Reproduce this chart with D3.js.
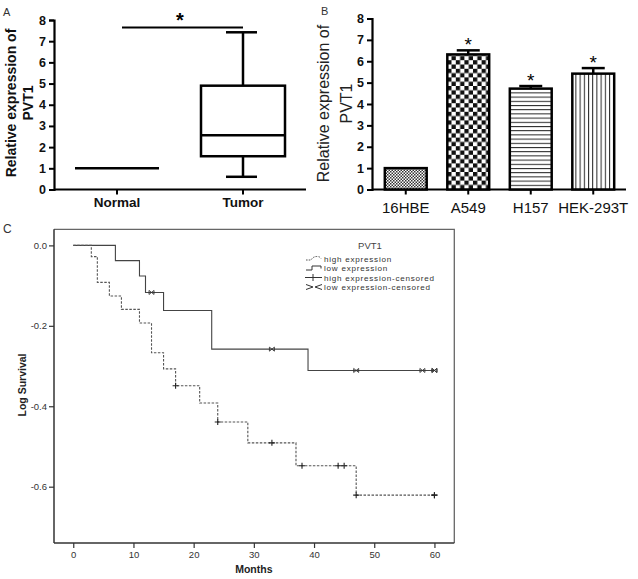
<!DOCTYPE html>
<html><head><meta charset="utf-8">
<script src="https://cdn.jsdelivr.net/npm/d3@7"></script>
<style>body{margin:0;background:#fff}svg{display:block}text{font-family:"Liberation Sans",Arial,sans-serif}</style>
</head><body><svg id="c" width="638" height="579"></svg>
<script>
// ---------- Panel A data ----------
const boxCategories = ["Normal", "Tumor"];
const normalValue = [1.0];
const tumorStats = [0.6, 1.57, 2.56, 4.9, 7.42]; // min, q1, median, q3, max
const sigLevelA = [7.65];
const ticksAB = [0, 1, 2, 3, 4, 5, 6, 7, 8];

// ---------- Panel B data ----------
const barCategories = ["16HBE", "A549", "H157", "HEK-293T"];
const barValues = [1.0, 6.32, 4.72, 5.42];
const barErrors = [0, 0.19, 0.12, 0.26];
const barStars = [false, true, true, true];
const barPatterns = ["fine", "checker", "hlines", "vlines"];

// ---------- Panel C data ----------
const highTimes = [0, 3, 4, 6, 8, 11, 13, 15, 17, 21, 24, 29, 37, 47];
const highLevels = [0, -0.028, -0.092, -0.126, -0.159, -0.193, -0.267, -0.307, -0.349, -0.392, -0.439, -0.491, -0.548, -0.621];
const highCensored = [17, 24, 33, 38, 44, 45, 47, 60, 60];
const lowTimes = [0, 7, 11, 12, 15, 23, 39];
const lowLevels = [0, -0.038, -0.076, -0.117, -0.162, -0.258, -0.311];
const lowCensored = [13, 33, 47, 58, 60, 60];
const endTime = [60];
const monthTicks = [0, 10, 20, 30, 40, 50, 60];
const logTicks = [0, -0.2, -0.4, -0.6];
const legendItems = ["high expression", "low expression", "high expression-censored", "low expression-censored"];

const svg = d3.select("#c");
const F = '"Liberation Sans",Arial,sans-serif';
const FW = '"DejaVu Sans",Verdana,sans-serif';

// ================= Panel A =================
const gA = svg.append("g");
const xA = d3.scaleBand().domain(boxCategories).range([54, 306]).paddingInner(1/3).paddingOuter(1/6);
const yA = d3.scaleLinear().domain([0, 8]).range([189.5, 20]);
gA.append("text").attr("x", 3).attr("y", 16).attr("font-size", 11).attr("fill", "#333").text("A");
const axYA = gA.append("g").attr("transform", "translate(54,0)")
  .call(d3.axisLeft(yA).tickValues(ticksAB).tickSize(5).tickPadding(3).tickFormat(d3.format("d")));
const axXA = gA.append("g").attr("transform", "translate(0,189.5)")
  .call(d3.axisBottom(xA).tickSize(5).tickPadding(3));
[axYA, axXA].forEach(a => {
  a.select(".domain").attr("stroke", "#000").attr("stroke-width", 2.2);
  a.selectAll(".tick line").attr("stroke", "#000").attr("stroke-width", 2);
  a.selectAll("text").attr("font-family", F).attr("font-weight", "bold").attr("fill", "#111");
});
axYA.selectAll("text").attr("font-size", 12.5);
axXA.selectAll("text").attr("font-size", 13.5);
axXA.select(".domain").attr("d", "M54,0H306");
gA.append("line").attr("x1", xA("Normal")).attr("x2", xA("Normal") + xA.bandwidth())
  .attr("y1", yA(normalValue[0])).attr("y2", yA(normalValue[0])).attr("stroke", "#000").attr("stroke-width", 2.5);
const tx = xA("Tumor"), tw = xA.bandwidth(), tc = tx + tw / 2;
function ln(g, x1, y1, x2, y2) { return g.append("line").attr("x1", x1).attr("y1", y1).attr("x2", x2).attr("y2", y2).attr("stroke", "#000").attr("stroke-width", 2.5); }
ln(gA, tc, yA(tumorStats[0]), tc, yA(tumorStats[1]));
ln(gA, tc, yA(tumorStats[3]), tc, yA(tumorStats[4]));
ln(gA, tc - 17, yA(tumorStats[0]), tc + 14, yA(tumorStats[0]));
ln(gA, tc - 17, yA(tumorStats[4]), tc + 14, yA(tumorStats[4]));
gA.append("rect").attr("x", tx).attr("y", yA(tumorStats[3])).attr("width", tw)
  .attr("height", yA(tumorStats[1]) - yA(tumorStats[3])).attr("fill", "#fff").attr("stroke", "#000").attr("stroke-width", 2.5);
ln(gA, tx, yA(tumorStats[2]), tx + tw, yA(tumorStats[2]));
const nc = xA("Normal") + xA.bandwidth() / 2;
ln(gA, nc + 5, yA(sigLevelA[0]), tc, yA(sigLevelA[0])).attr("stroke-width", 2);
gA.append("text").attr("x", (nc + tc) / 2).attr("y", yA(sigLevelA[0])).attr("text-anchor", "middle")
  .attr("font-size", 20).attr("font-weight", "bold").attr("fill", "#000").text("*");
const labA = gA.append("text").attr("transform", "translate(16,103) rotate(-90)").attr("text-anchor", "middle")
  .attr("font-size", 14).attr("font-weight", "bold").attr("fill", "#111");
labA.append("tspan").attr("x", 0).attr("y", 0).text("Relative expression of");
labA.append("tspan").attr("x", 0).attr("y", 17).text("PVT1");

// ================= Panel B =================
const gB = svg.append("g");
const defs = svg.append("defs");
let p = defs.append("pattern").attr("id", "fine").attr("patternUnits", "userSpaceOnUse").attr("width", 3).attr("height", 3);
p.append("rect").attr("width", 3).attr("height", 3).attr("fill", "#fff");
p.append("rect").attr("width", 1.5).attr("height", 1.5).attr("fill", "#333");
p.append("rect").attr("x", 1.5).attr("y", 1.5).attr("width", 1.5).attr("height", 1.5).attr("fill", "#333");
p = defs.append("pattern").attr("id", "checker").attr("patternUnits", "userSpaceOnUse").attr("width", 8.6).attr("height", 8.6);
p.append("rect").attr("width", 8.6).attr("height", 8.6).attr("fill", "#fff");
p.append("rect").attr("width", 4.3).attr("height", 4.3).attr("fill", "#111");
p.append("rect").attr("x", 4.3).attr("y", 4.3).attr("width", 4.3).attr("height", 4.3).attr("fill", "#111");
p = defs.append("pattern").attr("id", "hlines").attr("patternUnits", "userSpaceOnUse").attr("width", 4).attr("height", 4.2);
p.append("rect").attr("width", 4).attr("height", 4.2).attr("fill", "#fff");
p.append("rect").attr("y", 0).attr("width", 4).attr("height", 1).attr("fill", "#222");
p = defs.append("pattern").attr("id", "vlines").attr("patternUnits", "userSpaceOnUse").attr("width", 4.2).attr("height", 4);
p.append("rect").attr("width", 4.2).attr("height", 4).attr("fill", "#fff");
p.append("rect").attr("x", 0).attr("width", 1).attr("height", 4).attr("fill", "#222");

const xB = d3.scaleBand().domain(barCategories).range([374.5, 624.5]).paddingInner(0.33).paddingOuter(0.165);
const yB = d3.scaleLinear().domain([0, 8]).range([189.5, 18.5]);
gB.append("text").attr("x", 321).attr("y", 15).attr("font-size", 11).attr("fill", "#333").text("B");
const axYB = gB.append("g").attr("transform", "translate(372,0)")
  .call(d3.axisLeft(yB).tickValues(ticksAB).tickSize(5).tickPadding(3).tickFormat(d3.format("d")));
const axXB = gB.append("g").attr("transform", "translate(0,189.5)")
  .call(d3.axisBottom(xB).tickSize(5).tickPadding(8));
[axYB, axXB].forEach(a => {
  a.select(".domain").attr("stroke", "#000").attr("stroke-width", 2.2);
  a.selectAll(".tick line").attr("stroke", "#000").attr("stroke-width", 2);
  a.selectAll("text").attr("font-family", F).attr("fill", "#111");
});
axYB.selectAll("text").attr("font-size", 12.5).attr("font-weight", "bold");
axXB.selectAll("text").attr("font-size", 15);
axXB.select(".domain").attr("d", "M372,0H626");
const bars = barCategories.map((c, i) => ({c, v: barValues[i], e: barErrors[i], s: barStars[i], p: barPatterns[i]}));
bars.filter(d => d.e > 0).forEach(d => {
  const cx = xB(d.c) + xB.bandwidth() / 2;
  ln(gB, cx, yB(d.v), cx, yB(d.v + d.e)).attr("stroke-width", 2.5);
  ln(gB, cx - 11.5, yB(d.v + d.e), cx + 11.5, yB(d.v + d.e)).attr("stroke-width", 2.5);
});
gB.selectAll("rect.bar").data(bars).join("rect").attr("class", "bar")
  .attr("x", d => xB(d.c)).attr("width", xB.bandwidth())
  .attr("y", d => yB(d.v)).attr("height", d => yB(0) - yB(d.v))
  .attr("fill", d => `url(#${d.p})`).attr("stroke", "#000").attr("stroke-width", 2.5);
gB.selectAll("text.star").data(bars.filter(d => d.s)).join("text").attr("class", "star")
  .attr("x", d => xB(d.c) + xB.bandwidth() / 2).attr("y", d => yB(d.v + d.e) + 1)
  .attr("text-anchor", "middle").attr("font-size", 19).attr("fill", "#000").text("*");
const labB = gB.append("text").attr("transform", "translate(329,103.5) rotate(-90)").attr("text-anchor", "middle")
  .attr("font-size", 16).attr("fill", "#222");
labB.append("tspan").attr("x", 0).attr("y", 0).text("Relative expression of");
labB.append("tspan").attr("x", 0).attr("y", 23).text("PVT1");

// ================= Panel C =================
const gC = svg.append("g");
const xC = d3.scaleLinear().domain([-3.2, 63.3]).range([54, 454.3]);
const yC = d3.scaleLinear().domain([-0.74, 0.04]).range([543, 229.3]);
gC.append("text").attr("x", 3).attr("y", 233).attr("font-size", 12).attr("fill", "#333").text("C");
gC.append("path").attr("d", `M${xC.range()[0]},${yC.range()[1]}H${xC.range()[1]}V${yC.range()[0]}`)
  .attr("fill", "none").attr("stroke", "#666").attr("stroke-width", 1.3);
const axYC = gC.append("g").attr("transform", `translate(${xC.range()[0]},0)`)
  .call(d3.axisLeft(yC).tickValues(logTicks).tickSize(5).tickPadding(2).tickFormat(d => d.toFixed(1)));
const axXC = gC.append("g").attr("transform", `translate(0,${yC.range()[0]})`)
  .call(d3.axisBottom(xC).tickValues(monthTicks).tickSize(5).tickPadding(3).tickFormat(d3.format("d")));
[axYC, axXC].forEach(a => {
  a.select(".domain").attr("stroke", "#333").attr("stroke-width", 1.5);
  a.selectAll(".tick line").attr("stroke", "#333").attr("stroke-width", 1.2);
  a.selectAll("text").attr("font-family", F).attr("font-size", 9.5).attr("fill", "#333");
});
axYC.select(".domain").attr("d", `M0,${yC.range()[0]}V${yC.range()[1]}`);
axXC.select(".domain").attr("d", `M${xC.range()[0]},0H${xC.range()[1]}`);
gC.append("text").attr("transform", "translate(26,385) rotate(-90)").attr("text-anchor", "middle")
  .attr("font-size", 10.5).attr("font-weight", "bold").attr("fill", "#222").text("Log Survival");
gC.append("text").attr("x", xC(30)).attr("y", 573).attr("text-anchor", "middle")
  .attr("font-size", 10.5).attr("font-weight", "bold").attr("fill", "#222").text("Months");

function stepPts(times, levels) {
  const pts = times.map((t, i) => [t, levels[i]]);
  pts.push([endTime[0], levels[levels.length - 1]]);
  return pts;
}
function levelAt(times, levels, t) {
  let v = levels[0];
  times.forEach((tt, i) => { if (tt <= t) v = levels[i]; });
  return v;
}
const line = d3.line().x(d => xC(d[0])).y(d => yC(d[1])).curve(d3.curveStepAfter);
gC.append("path").attr("d", line(stepPts(lowTimes, lowLevels))).attr("fill", "none").attr("stroke", "#444").attr("stroke-width", 1.1);
gC.append("path").attr("d", line(stepPts(highTimes, highLevels))).attr("fill", "none").attr("stroke", "#555")
  .attr("stroke-width", 1.1).attr("stroke-dasharray", "2.5,1.5");
highCensored.forEach(t => {
  const cx = xC(t), cy = yC(levelAt(highTimes, highLevels, t));
  gC.append("path").attr("d", `M${cx - 3},${cy}H${cx + 3}M${cx},${cy - 3}V${cy + 3}`).attr("stroke", "#222").attr("stroke-width", 1.1);
});
lowCensored.forEach(t => {
  const cx = xC(t), cy = yC(levelAt(lowTimes, lowLevels, t));
  gC.append("path").attr("d", `M${cx - 2.5},${cy - 2}L${cx + 2.5},${cy + 2}M${cx - 2.5},${cy + 2}L${cx + 2.5},${cy - 2}M${cx - 2.5},${cy - 2}V${cy + 2}M${cx + 2.5},${cy - 2}V${cy + 2}`)
    .attr("stroke", "#333").attr("stroke-width", 0.9).attr("fill", "none");
});
// legend
const lg = gC.append("g");
lg.append("text").attr("x", 370).attr("y", 248.5).attr("text-anchor", "middle").attr("font-size", 9.5).attr("font-family", FW).attr("fill", "#444").text("PVT1");
const rowY = [258.5, 268, 277.5, 287];
lg.selectAll("text.li").data(legendItems).join("text").attr("class", "li")
  .attr("x", 324).attr("y", (d, i) => rowY[i] + 3).attr("font-size", 8.1).attr("font-family", FW)
  .attr("letter-spacing", 0.75).attr("fill", "#333").text(d => d);
lg.append("path").attr("d", `M306,${rowY[0] + 1.5}H311Q313,${rowY[0] - 2} 317,${rowY[0] - 2}Q320,${rowY[0] - 2} 321,${rowY[0]}`)
  .attr("fill", "none").attr("stroke", "#555").attr("stroke-dasharray", "1.6,1.1");
lg.append("path").attr("d", `M306,${rowY[1] + 2}H312V${rowY[1] - 2}H321V${rowY[1] + 0.5}`).attr("fill", "none").attr("stroke", "#333");
lg.append("path").attr("d", `M305,${rowY[2]}H322M313,${rowY[2] - 3.5}V${rowY[2] + 3.5}`).attr("fill", "none").attr("stroke", "#333");
lg.append("path").attr("d", `M306,${rowY[3] - 2.5}L313,${rowY[3]}L306,${rowY[3] + 2.5}M322,${rowY[3] - 2.5}L315,${rowY[3]}L322,${rowY[3] + 2.5}`).attr("fill", "none").attr("stroke", "#333");
</script></body></html>
